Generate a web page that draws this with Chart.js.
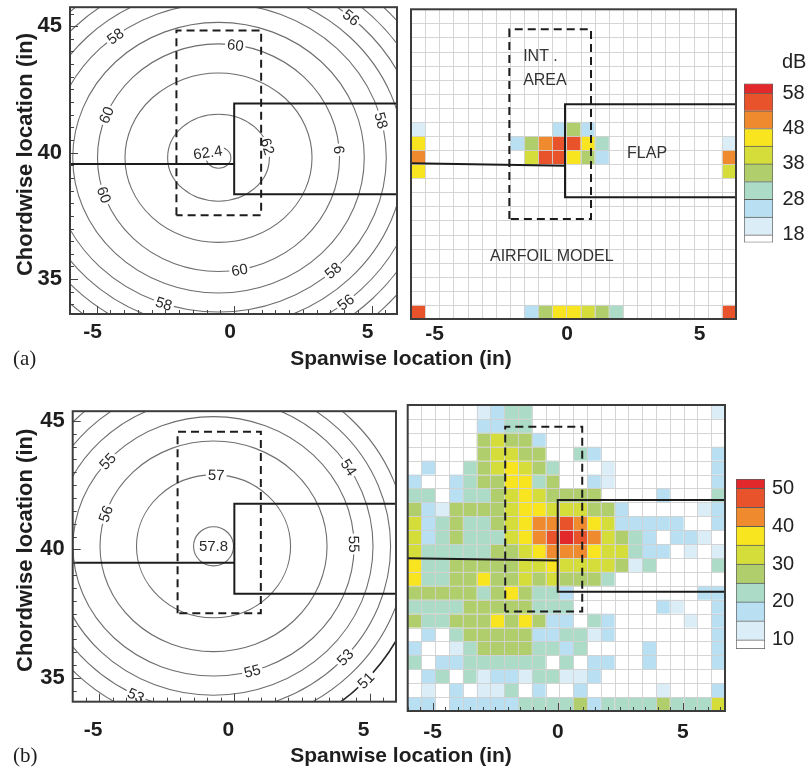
<!DOCTYPE html>
<html>
<head>
<meta charset="utf-8">
<script src="https://cdn.jsdelivr.net/npm/chart.js@4.4.1/dist/chart.umd.min.js"></script>
<style>
  body { margin: 0; background: #fff; width: 806px; height: 770px; position: relative; overflow: hidden;
         font-family: "Liberation Sans", Arial, Helvetica, sans-serif; }
  canvas { position: absolute; }
  .t { position: absolute; white-space: nowrap; color: #1e1e1e; }
  .xt { left: 0; width: 802px; text-align: center; font-weight: bold; font-size: 21px; line-height: 24px; }
  .tag { left: 13px; font-family: "Liberation Serif", "Times New Roman", serif; font-size: 21px; line-height: 24px; }
</style>
</head>
<body>
<canvas id="ca"></canvas>
<canvas id="cb"></canvas>
<canvas id="cc"></canvas>
<canvas id="cd"></canvas>
<canvas id="bar1"></canvas>
<canvas id="bar2"></canvas>
<div class="t xt" style="top:346px">Spanwise location (in)</div>
<div class="t xt" style="top:743px">Spanwise location (in)</div>
<div class="t tag" style="top:346px">(a)</div>
<div class="t tag" style="top:743px">(b)</div>
<div class="t" style="left:782px;top:50px;font-size:20px;line-height:22px;color:#222">dB</div>
<script>
Chart.defaults.font.family = '"Liberation Sans", Arial, Helvetica, sans-serif';
Chart.defaults.color = '#1e1e1e';

// axis ticks
const xTicks = [-5, 0, 5];
const yTicks = [35, 40, 45];

// (a) contour levels (dB) and half widths / half heights (in)
const levelsA = [62.4, 62, 61, 60, 59, 58, 57, 56, 55, 54, 53];
const radXA = [0.45, 1.85, 3.4, 4.4, 5.3, 6.1, 6.75, 7.35, 7.9, 8.45, 8.95];
const radYA = [0.42, 1.72, 3.35, 4.5, 5.35, 6.1, 6.75, 7.35, 7.9, 8.45, 8.95];
const centerA = [-0.57, 39.8];
// text, level, angle on contour (deg), fixed rotation
const labelsA = [
  ['62.4', 62.4, 150, -8], ['62', 62, 15], ['60', 60, 82], ['60', 60, 158], ['60', 60, 199],
  ['60', 60, 280], ['6', 60, 4], ['58', 58, 128], ['58', 58, 14], ['58', 58, 313],
  ['58', 58, 251], ['56', 56, 49], ['56', 56, 309]
];

// (b) contour levels
const levelsB = [57.8, 57, 56, 55, 54, 53, 52, 51];
const radXB = [0.74, 2.85, 4.2, 5.2, 5.9, 6.55, 7.15, 7.7];
const radYB = [0.76, 2.78, 4.1, 5.05, 5.8, 6.45, 7.05, 7.65];
const centerB = [-0.77, 40.12];
const labelsB = [
  ['57.8', 57.8, null, 0], ['57', 57, 88], ['56', 56, 162], ['55', 55, 139], ['54', 54, 32],
  ['55', 55, 1], ['55', 55, 286], ['53', 53, 318], ['53', 53, 244], ['51', 51, 317]
];
// the 51 dB line only shows in the lower right corner (deg range)
const partialB = { 51: [292, 340] };

// model outline (in): flap leading edge x, dashed integration area
const flapX = 0;
const dashX = [-2.1, 0.98];
const flapYA = [38.35, 41.94], foilYA = [39.55, 39.55], dashYA = [37.52, 44.83];
const flapYB = [38.27, 41.78], foilYB = [39.48, 39.48], dashYB = [37.51, 44.58];

// colour bands
const bandColors = ['#ffffff', '#dbeef7', '#b8e0f2', '#acdcc8', '#b0cf6c', '#d5dd3b', '#f8e41f', '#f08a2e', '#e8532b', '#e2282b'];
const levelsTop = [18, 23, 28, 33, 38, 43, 48, 53, 58];
const levelsBot = [10, 15, 20, 25, 30, 35, 40, 45, 50];
const barTicksTop = [18, 28, 38, 48, 58];
const barTicksBot = [10, 20, 30, 40, 50];

// (a) beamforming map: [column, row, dB], other cells below 18 dB
const cellsA = [
  [0, 8, 20], [10, 8, 25], [11, 8, 35], [12, 8, 25],
  [0, 9, 45], [7, 9, 25], [8, 9, 35], [9, 9, 50], [10, 9, 55], [11, 9, 55], [12, 9, 45], [13, 9, 30], [22, 9, 20],
  [0, 10, 50], [8, 10, 40], [9, 10, 55], [10, 10, 55], [11, 10, 45], [12, 10, 35], [13, 10, 25], [22, 10, 50],
  [0, 11, 45], [22, 11, 40],
  [0, 21, 55], [8, 21, 25], [9, 21, 35], [10, 21, 45], [11, 21, 45], [12, 21, 40], [13, 21, 35], [14, 21, 30], [22, 21, 55]
];

// (b) beamforming map, dB per cell, rows top to bottom
const gridB = [
  [0,0,0,0,0,12,17,22,22,0,0,0,0,0,0,0,0,0,0,0,0,0,12],
  [0,0,0,0,0,17,17,22,22,0,0,0,0,0,0,0,0,0,0,0,0,0,0],
  [0,0,0,0,0,27,32,27,27,17,0,0,0,0,0,0,0,0,0,0,0,0,0],
  [0,0,0,0,0,27,32,32,27,27,0,0,22,17,0,0,0,0,0,0,0,0,17],
  [0,17,0,0,22,27,32,37,32,27,22,0,0,0,12,0,0,0,0,0,0,0,17],
  [17,0,0,17,22,27,27,37,37,22,27,0,0,17,12,0,0,0,0,0,0,0,17],
  [22,22,0,17,22,22,27,32,37,32,27,27,27,27,0,0,0,0,17,0,0,0,22],
  [27,17,12,27,27,27,27,32,37,37,32,32,32,27,27,17,0,0,0,0,0,12,17],
  [32,17,22,27,22,22,27,32,37,42,42,47,42,37,32,17,17,17,17,17,0,0,17],
  [32,17,22,27,22,22,22,32,37,42,47,51,47,42,32,27,22,17,0,17,17,12,0],
  [32,22,22,22,22,22,27,27,32,37,42,42,42,37,32,32,22,17,17,0,12,0,12],
  [37,22,22,27,27,27,27,27,32,32,37,32,32,32,32,27,12,22,0,0,0,0,22],
  [37,22,22,27,27,37,27,27,32,27,32,27,27,27,22,0,0,0,0,0,0,0,0],
  [27,27,27,27,27,22,27,37,27,22,22,17,0,0,0,0,0,0,0,0,0,17,17],
  [22,22,22,22,27,27,27,27,27,22,22,22,0,0,0,0,0,0,17,12,0,0,17],
  [27,22,22,27,27,27,37,27,37,27,17,17,0,22,17,0,0,0,0,0,12,0,17],
  [0,17,0,22,27,27,27,27,27,17,17,22,22,12,17,0,0,0,0,0,0,0,17],
  [17,0,0,12,22,27,27,27,27,22,22,17,22,0,0,0,0,17,0,0,0,0,17],
  [22,0,17,17,22,22,22,22,22,22,0,22,0,17,17,0,0,17,0,0,0,0,17],
  [0,17,22,0,22,12,17,17,12,22,22,12,12,17,0,0,0,0,0,0,0,0,0],
  [0,12,0,17,0,12,12,22,0,17,0,0,17,0,0,0,0,0,12,0,0,0,17],
  [17,17,0,17,17,17,17,17,22,22,22,22,27,17,22,22,22,22,27,22,22,22,32]
];

const notesA = [
  ['INT .', -1.58, 43.78], ['AREA', -1.58, 42.87], ['FLAP', 2.34, 40.04], ['AIRFOIL MODEL', -2.83, 36.07]
];

const PANELS = {};

function bandOf(v, levels) { return levels.filter(t => v >= t).length; }

function drawLabel(ctx, text, px, py, rot) {
  ctx.save();
  ctx.translate(px, py);
  ctx.rotate(rot);
  ctx.font = '15px "Liberation Sans", Arial, sans-serif';
  const w = ctx.measureText(text).width;
  ctx.fillStyle = '#fff';
  ctx.fillRect(-w / 2 - 2, -8, w + 4, 16);
  ctx.fillStyle = '#2a2a2a';
  ctx.textAlign = 'center';
  ctx.textBaseline = 'middle';
  ctx.fillText(text, 0, 1);
  ctx.restore();
}

function drawContours(ctx, x, y, c) {
  const cx = x.getPixelForValue(c.center[0]), cy = y.getPixelForValue(c.center[1]);
  const px = c.levels.map((lv, i) => [x.getPixelForValue(c.center[0] + c.rx[i]) - cx,
                                      cy - y.getPixelForValue(c.center[1] + c.ry[i])]);
  c.levels.forEach((lv, i) => {
    const part = c.partial && c.partial[lv];
    ctx.strokeStyle = part ? '#262626' : '#6e6e6e';
    ctx.lineWidth = part ? 1.6 : 1.1;
    ctx.beginPath();
    if (part) {
      // canvas angles run clockwise, data angles counter-clockwise
      ctx.ellipse(cx, cy, px[i][0], px[i][1], 0, -part[1] * Math.PI / 180, -part[0] * Math.PI / 180);
    } else {
      ctx.ellipse(cx, cy, px[i][0], px[i][1], 0, 0, Math.PI * 2);
    }
    ctx.stroke();
  });
  c.labels.forEach(([text, lv, ang, rot]) => {
    const i = c.levels.indexOf(lv);
    if (ang === null) { drawLabel(ctx, text, cx, cy, 0); return; }
    const th = ang * Math.PI / 180;
    const lx = cx + px[i][0] * Math.cos(th), ly = cy - px[i][1] * Math.sin(th);
    let r = Math.atan2(-px[i][1] * Math.cos(th), -px[i][0] * Math.sin(th));
    while (r > Math.PI / 2) r -= Math.PI;
    while (r <= -Math.PI / 2) r += Math.PI;
    if (rot !== undefined) r = rot * Math.PI / 180;
    drawLabel(ctx, text, lx, ly, r);
  });
}

function drawCells(ctx, x, y, a, h) {
  const dx = (x.max - x.min) / h.cols, dy = (y.max - y.min) / h.rows;
  h.cells.forEach(([c, r, v]) => {
    const band = bandOf(v, h.levels);
    if (!band) return;
    const l = x.getPixelForValue(x.min + c * dx), rr = x.getPixelForValue(x.min + (c + 1) * dx);
    const t = y.getPixelForValue(y.max - r * dy), b = y.getPixelForValue(y.max - (r + 1) * dy);
    ctx.fillStyle = bandColors[band];
    ctx.fillRect(l, t, rr - l, b - t);
  });
  ctx.strokeStyle = 'rgba(208,208,208,0.9)';
  ctx.lineWidth = 1;
  ctx.beginPath();
  for (let c = 1; c < h.cols; c++) {
    const p = Math.round(x.getPixelForValue(x.min + c * dx)) + 0.5;
    ctx.moveTo(p, a.top); ctx.lineTo(p, a.bottom);
  }
  for (let r = 1; r < h.rows; r++) {
    const p = Math.round(y.getPixelForValue(y.max - r * dy)) + 0.5;
    ctx.moveTo(a.left, p); ctx.lineTo(a.right, p);
  }
  ctx.stroke();
}

const panelPlugin = {
  id: 'panel',
  beforeDatasetsDraw(chart) {
    const p = PANELS[chart.canvas.id];
    const {ctx, chartArea: a, scales: {x, y}} = chart;
    ctx.save();
    ctx.beginPath(); ctx.rect(a.left, a.top, a.width, a.height); ctx.clip();
    if (p.cells) drawCells(ctx, x, y, a, p.cells);
    if (p.contours) drawContours(ctx, x, y, p.contours);
    ctx.restore();
  },
  afterDatasetsDraw(chart) {
    const p = PANELS[chart.canvas.id];
    const {ctx, chartArea: a, scales: {x, y}} = chart;
    ctx.save();
    if (p.notes) {
      ctx.font = '16px "Liberation Sans", Arial, sans-serif';
      ctx.fillStyle = '#333';
      ctx.textBaseline = 'middle';
      p.notes.forEach(([t, vx, vy]) => ctx.fillText(t, x.getPixelForValue(vx), y.getPixelForValue(vy)));
    }
    // inner tick marks
    ctx.strokeStyle = '#444';
    ctx.lineWidth = 1;
    ctx.beginPath();
    if (p.ticksBottom) {
      for (let v = Math.ceil(x.min * 2) / 2; v <= x.max; v += 0.5) {
        const px = Math.round(x.getPixelForValue(v)) + 0.5, len = v % 5 === 0 ? 8 : 4;
        ctx.moveTo(px, a.bottom); ctx.lineTo(px, a.bottom - len);
      }
    }
    if (p.ticksLeft) {
      for (let v = Math.ceil(y.min * 2) / 2; v <= y.max; v += 0.5) {
        const py = Math.round(y.getPixelForValue(v)) + 0.5, len = v % 5 === 0 ? 8 : 4;
        ctx.moveTo(a.left, py); ctx.lineTo(a.left + len, py);
      }
    }
    ctx.stroke();
    ctx.strokeStyle = '#3c3c3c';
    ctx.lineWidth = 2;
    ctx.strokeRect(a.left, a.top, a.width, a.height);
    ctx.restore();
  }
};

function outline(xr, flapY, foilY, dashY) {
  const line = { showLine: true, pointRadius: 0, borderColor: '#1c1c1c', borderWidth: 2, fill: false, tension: 0 };
  return [
    { ...line, data: [{x: xr[1], y: flapY[1]}, {x: flapX, y: flapY[1]}, {x: flapX, y: flapY[0]}, {x: xr[1], y: flapY[0]}] },
    { ...line, data: [{x: xr[0], y: foilY[0]}, {x: flapX, y: foilY[1]}] },
    { ...line, borderDash: [8, 5], data: [
      {x: dashX[0], y: dashY[0]}, {x: dashX[0], y: dashY[1]}, {x: dashX[1], y: dashY[1]},
      {x: dashX[1], y: dashY[0]}, {x: dashX[0], y: dashY[0]}] }
  ];
}

function panelChart(id, box, area, xr, yr, opt) {
  const cv = document.getElementById(id);
  cv.width = box.w; cv.height = box.h;
  cv.style.left = box.x + 'px'; cv.style.top = box.y + 'px';
  const xH = 40;
  const hasY = !!opt.yTitle;
  const yW = hasY ? area.l - box.x - opt.padL : 0;
  const padding = {
    left: hasY ? opt.padL : area.l - box.x,
    top: area.t - box.y,
    right: box.x + box.w - area.r,
    bottom: box.y + box.h - area.b - xH
  };
  PANELS[id] = opt.panel;
  return new Chart(cv, {
    type: 'scatter',
    data: { datasets: opt.datasets },
    options: {
      responsive: false,
      animation: false,
      layout: { padding },
      plugins: { legend: { display: false }, tooltip: { enabled: false } },
      scales: {
        x: {
          type: 'linear', min: xr[0], max: xr[1],
          grid: { display: false, drawTicks: false }, border: { display: false },
          afterBuildTicks: s => { s.ticks = xTicks.map(v => ({ value: v })); },
          afterFit: s => { s.height = xH; },
          ticks: { font: { size: 21, weight: 'bold' }, color: '#1e1e1e', padding: opt.xPad,
                   labelOffset: opt.xShift || 0, maxRotation: 0, autoSkip: false }
        },
        y: {
          type: 'linear', display: hasY, min: yr[0], max: yr[1],
          grid: { display: false, drawTicks: false }, border: { display: false },
          afterBuildTicks: s => { s.ticks = yTicks.map(v => ({ value: v })); },
          afterFit: s => { s.width = yW; },
          ticks: { font: { size: 22, weight: 'bold' }, color: '#1e1e1e', padding: 8 },
          title: { display: hasY, text: opt.yTitle, font: { size: 22, weight: 'bold' }, color: '#1e1e1e', padding: 0 }
        }
      }
    },
    plugins: [panelPlugin]
  });
}

function colorbar(id, area, levels, ticks, lo, hi, pad) {
  const cv = document.getElementById(id);
  const axisW = 50;
  cv.width = Math.round(area.r - area.l) + axisW;
  cv.height = Math.round(area.b - area.t) + 30;
  cv.style.left = area.l + 'px';
  cv.style.top = (area.t - 15) + 'px';
  const edges = [lo, ...levels, hi];
  new Chart(cv, {
    type: 'bar',
    data: {
      labels: [''],
      datasets: bandColors.map((c, i) => ({
        data: [[edges[i], edges[i + 1]]],
        backgroundColor: c, borderColor: '#5c5c5c',
        borderWidth: i === 0 ? 1 : { top: 1, left: 1, right: 1, bottom: 0 },
        borderSkipped: false, grouped: false, barPercentage: 1, categoryPercentage: 1
      }))
    },
    options: {
      responsive: false,
      animation: false,
      layout: { padding: { left: 0, right: 0, top: 15, bottom: cv.height - 15 - (area.b - area.t) } },
      plugins: { legend: { display: false }, tooltip: { enabled: false } },
      scales: {
        x: { display: false },
        y: {
          position: 'right', min: lo, max: hi,
          grid: { display: false, drawTicks: false }, border: { display: false },
          afterBuildTicks: s => { s.ticks = ticks.map(v => ({ value: v })); },
          afterFit: s => { s.width = axisW; },
          ticks: { font: { size: 20 }, color: '#222', padding: pad }
        }
      }
    }
  });
}

// leading spaces nudge the rotated title up a little, as in the original
const yTitle = '  Chordwise location (in)';

// (a) contour map
const xrA = [-5.97, 5.92], yrA = [33.62, 45.75];
panelChart('ca', { x: 0, y: -14, w: 410, h: 373 }, { l: 70, t: 6, r: 397, b: 314 }, xrA, yrA, {
  yTitle: yTitle, padL: 12.8, xPad: 6, xShift: -4,
  datasets: outline(xrA, flapYA, foilYA, dashYA),
  panel: { contours: { center: centerA, levels: levelsA, rx: radXA, ry: radYA, labels: labelsA },
           ticksBottom: true, ticksLeft: true }
});

// (a) beamforming map
const xrA2 = [-5.81, 6.45], yrA2 = [33.66, 45.6];
panelChart('cb', { x: 396, y: -6, w: 355, h: 370 }, { l: 411, t: 9.3, r: 736, b: 319 }, xrA2, yrA2, {
  xPad: 2.5, xShift: 2,
  datasets: outline(xrA2, flapYA, [39.66, 39.57], dashYA),
  panel: { cells: { cols: 23, rows: 22, cells: cellsA, levels: levelsTop }, notes: notesA }
});

// (b) contour map
const xrB = [-5.98, 5.98], yrB = [34.07, 45.38];
panelChart('cc', { x: 0, y: 390, w: 405, h: 357 }, { l: 72.7, t: 405.7, r: 396, b: 701.7 }, xrB, yrB, {
  yTitle: yTitle, padL: 12.8, xPad: 16, xShift: -6,
  datasets: outline(xrB, flapYB, foilYB, dashYB),
  panel: { contours: { center: centerB, levels: levelsB, rx: radXB, ry: radYB, labels: labelsB, partial: partialB },
           ticksBottom: true, ticksLeft: true }
});

// (b) beamforming map
const cellsB = [];
gridB.forEach((row, r) => row.forEach((v, c) => cellsB.push([c, r, v])));
const xrB2 = [-6.0, 6.69], yrB2 = [33.71, 45.41];
panelChart('cd', { x: 392, y: 390, w: 348, h: 366 }, { l: 407.7, t: 405, r: 725, b: 711 }, xrB2, yrB2, {
  xPad: 9,
  datasets: outline(xrB2, flapYB, [39.55, 39.46], dashYB),
  panel: { cells: { cols: 23, rows: 22, cells: cellsB, levels: levelsBot }, ticksBottom: true }
});

colorbar('bar1', { l: 743.5, t: 77, r: 772.5, b: 249 }, levelsTop, barTicksTop, 15.8, 60.7, 9.5);
colorbar('bar2', { l: 736, t: 475, r: 765, b: 653 }, levelsBot, barTicksBot, 7.55, 52.5, 7);
</script>
</body>
</html>
